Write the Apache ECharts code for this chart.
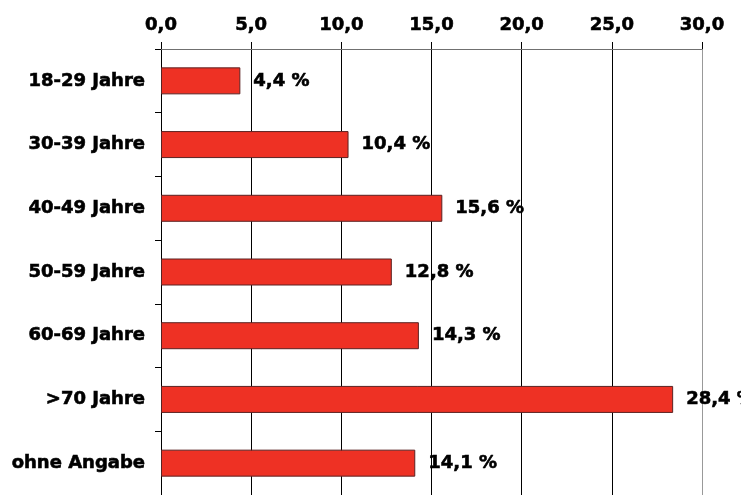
<!DOCTYPE html>
<html>
<head>
<meta charset="utf-8">
<script src="https://cdn.jsdelivr.net/npm/echarts@6/dist/echarts.min.js"></script>
<style>
html,body{margin:0;padding:0;background:#fff;}
#chart{width:741px;height:495px;}
</style>
</head>
<body>
<div id="chart"></div>
<script>
const categories = ['18-29 Jahre','30-39 Jahre','40-49 Jahre','50-59 Jahre','60-69 Jahre','>70 Jahre','ohne Angabe'];
const values = [4.4, 10.4, 15.6, 12.8, 14.3, 28.4, 14.1];
const axisMin = 0, axisMax = 30, axisStep = 5;

const fmt = v => v.toFixed(1).replace('.', ',');
const font = {fontFamily: 'DejaVu Sans', fontWeight: 'bold', fontSize: 18, color: '#000',
              textBorderColor: '#000', textBorderWidth: 0.6};

const chart = echarts.init(document.getElementById('chart'), null, {renderer: 'canvas'});
chart.setOption({
  animation: false,
  backgroundColor: '#fff',
  grid: {left: 161, right: 39, top: 49, bottom: 0, containLabel: false},
  xAxis: {
    type: 'value', position: 'top', min: axisMin, max: axisMax, interval: axisStep,
    axisLine: {show: true, lineStyle: {color: '#707070', width: 1}},
    axisTick: {show: true, inside: false, length: 7, lineStyle: {color: '#000'}},
    splitLine: {show: true, lineStyle: {color: ['#000','#000','#000','#000','#000','#000','#999'], width: 1}},
    axisLabel: Object.assign({margin: 15, formatter: v => fmt(v)}, font)
  },
  yAxis: {
    type: 'category', data: categories, inverse: true,
    axisLine: {show: true, lineStyle: {color: '#000', width: 1}},
    axisTick: {show: true, length: 6, lineStyle: {color: '#000'}},
    axisLabel: Object.assign({margin: 16}, font)
  },
  series: [{
    type: 'bar',
    data: values,
    barWidth: 27,
    itemStyle: {color: '#EE3124', borderColor: '#5a2222', borderWidth: 1},
    label: Object.assign({show: true, position: 'right', distance: 13, formatter: p => fmt(p.value) + ' %'}, font)
  }]
});
</script>
</body>
</html>
